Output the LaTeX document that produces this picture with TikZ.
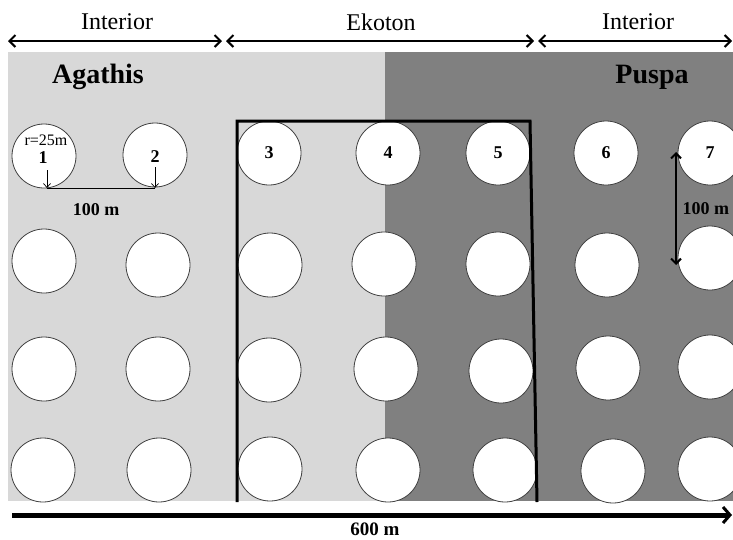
\documentclass[tikz,border=0pt]{standalone}
\usepackage{fontspec}
\setmainfont{Liberation Serif}
\usetikzlibrary{arrows.meta}
\definecolor{lightzone}{HTML}{D8D8D8}
\definecolor{darkzone}{HTML}{808080}
\definecolor{rimgray}{HTML}{404040}
\tikzset{
  plot/.style={circle, draw=rimgray, line width=0.8pt, fill=white, minimum size=64pt, inner sep=0pt, font=\bfseries\fontsize{18}{18}\selectfont},
  zonearrow/.style={line width=2.6pt, {Straight Barb[length=6pt,width=12pt,line width=2pt]}-{Straight Barb[length=6pt,width=12pt,line width=2pt]}},
  dimarrow/.style={line width=2pt, {Straight Barb[length=5pt,width=10pt]}-{Straight Barb[length=5pt,width=10pt]}},
  thinarrow/.style={line width=0.7pt, -{Straight Barb[length=4pt,width=7pt]}},
  bigarrow/.style={line width=5pt, -{Straight Barb[length=7pt,width=16pt,line width=3pt]}},
  transect/.style={line width=3pt, line join=miter},
  zonelabel/.style={font=\fontsize{24}{24}\selectfont},
  standlabel/.style={font=\bfseries\fontsize{28}{28}\selectfont},
  measure/.style={font=\bfseries\fontsize{18}{18}\selectfont},
}
\begin{document}
\begin{tikzpicture}[x=1pt,y=-1pt]
\useasboundingbox (0,0) rectangle (733,539);
\clip (0,0) rectangle (733,539);
\fill[white] (0,0) rectangle (733,539);

% forest stands
\fill[lightzone] (8,52) rectangle (386,501);
\fill[darkzone] (385,52) rectangle (733,501);

% sampling plots, row by row
\node[plot] (p11) at (44,156) {};
\node[plot] (p12) at (155,155) {};
\node[plot] (p13) at (269,153) {3};
\node[plot] (p14) at (388,153) {4};
\node[plot] (p15) at (498,153) {5};
\node[plot] (p16) at (606,153) {6};
\node[plot] (p17) at (710,153) {7};

\node[plot] (p21) at (44,261) {};
\node[plot] (p22) at (158,265) {};
\node[plot] (p23) at (270,265) {};
\node[plot] (p24) at (384,264) {};
\node[plot] (p25) at (498,264) {};
\node[plot] (p26) at (607,265) {};
\node[plot] (p27) at (710,258) {};

\node[plot] (p31) at (44,369) {};
\node[plot] (p32) at (158,369) {};
\node[plot] (p33) at (269,370) {};
\node[plot] (p34) at (386,369) {};
\node[plot] (p35) at (501,371) {};
\node[plot] (p36) at (608,368) {};
\node[plot] (p37) at (710,367) {};

\node[plot] (p41) at (43,470) {};
\node[plot] (p42) at (159,470) {};
\node[plot] (p43) at (270,469) {};
\node[plot] (p44) at (388,470) {};
\node[plot] (p45) at (505,470) {};
\node[plot] (p46) at (613,471) {};
\node[plot] (p47) at (710,469) {};

% labels of the first two plots
\node[font=\fontsize{16}{16}\selectfont] (radius) at (46,140) {r=25m};
\node[measure] (n1) at (43,158) {1};
\node[measure] (n2) at (155,157) {2};

% distance between plot 1 and plot 2
\coordinate (a1) at (47,170);
\coordinate (b1) at (47,188);
\coordinate (a2) at (155,167);
\coordinate (b2) at (155,188);
\draw[thinarrow] (a1) -- (b1);
\draw[thinarrow] (a2) -- (b2);
\draw[line width=0.8pt] (b1) -- (b2);
\node[measure] (d12) at (96,210) {100 m};

% ecotone transect
\coordinate (t1) at (237,502);
\coordinate (t2) at (237,121);
\coordinate (t3) at (530,121);
\coordinate (t4) at (537,502);
\draw[transect] (t1) -- (t2) -- (t3) -- (t4);

% row spacing
\coordinate (v1) at (676,152);
\coordinate (v2) at (676,265);
\draw[dimarrow] (v1) -- (v2);
\node[measure, anchor=west] (d17) at (679,209) {100 m};

% stand names
\node[standlabel] (agathis) at (98,77) {Agathis};
\node[standlabel] (puspa) at (652,77) {Puspa};

% zones along the top
\coordinate (z0) at (8,41);
\coordinate (z1) at (222,41);
\coordinate (z2) at (226,41);
\coordinate (z3) at (534,41);
\coordinate (z4) at (538,41);
\coordinate (z5) at (732,41);
\draw[zonearrow] (z0) -- (z1);
\draw[zonearrow] (z2) -- (z3);
\draw[zonearrow] (z4) -- (z5);
\node[zonelabel] (zl) at (117,22) {Interior};
\node[zonelabel] (zm) at (381,22) {Ekoton};
\node[zonelabel] (zr) at (638,22) {Interior};

% total length
\coordinate (w0) at (12,515);
\coordinate (w1) at (732,515);
\draw[bigarrow] (w0) -- (w1);
\node[inner sep=0pt, font=\bfseries\fontsize{19}{19}\selectfont] (total) at (375,529) {600 m};
\end{tikzpicture}
\end{document}
